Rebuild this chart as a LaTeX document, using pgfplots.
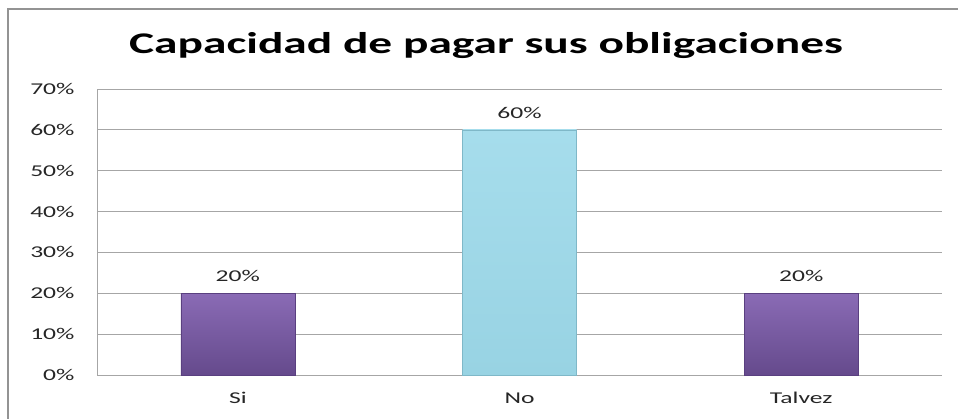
\documentclass[border=0pt]{standalone}
\usepackage{pgfplots}
\pgfplotsset{compat=1.18}
\usepackage{fontspec}
\setmainfont{Carlito}
\usepackage{graphicx}
\newcommand{\sx}[1]{\scalebox{1.55}[1]{#1}}
\definecolor{purpTop}{HTML}{8A6BB5}
\definecolor{purpBot}{HTML}{654A8C}
\definecolor{purpEdge}{HTML}{5A4080}
\definecolor{blueTop}{HTML}{A6DDEC}
\definecolor{blueBot}{HTML}{98D3E3}
\definecolor{blueEdge}{HTML}{7FB8C8}
\definecolor{gridc}{HTML}{A6A6A6}
\definecolor{txt}{HTML}{262626}
\begin{document}
\begin{tikzpicture}
\useasboundingbox (0pt,0pt) rectangle (958pt,419pt);
\draw[color=gray!85, line width=1.8pt] (8pt,0pt) -- (8pt,410pt) -- (958pt,410pt);
\node[font=\bfseries\fontsize{30}{34}\selectfont, anchor=center] at (486pt,373pt) {\scalebox{1.58}[1]{Capacidad de pagar sus obligaciones}};
\begin{axis}[
  at={(97pt,44pt)}, anchor=south west,
  scale only axis, width=845pt, height=286pt,
  xmin=-0.5, xmax=2.5, ymin=0, ymax=70,
  xtick={0,1,2}, xticklabels={\sx{Si},\sx{No},\sx{Talvez}},
  ytick={0,10,...,70},
  yticklabel={\sx{\pgfmathprintnumber[assume math mode=true]{\tick}\%}},
  ticklabel style={font=\fontsize{16.5}{18}\selectfont, text=txt},
  xticklabel style={yshift=-14pt},
  yticklabel style={xshift=-19pt},
  major tick length=0pt,
  ymajorgrids, grid style={gridc, line width=0.9pt},
  axis x line*=bottom, axis y line*=left,
  axis line style={gridc, line width=0.9pt, -},
  ybar, bar width=114pt,
  nodes near coords={\sx{\pgfmathprintnumber[assume math mode=true]{\pgfplotspointmeta}\%}},
  every node near coord/.append style={font=\fontsize{16.5}{18}\selectfont, text=txt, yshift=8pt},
  clip=false,
]
\addplot[bar shift=0pt, draw=purpEdge, top color=purpTop, bottom color=purpBot] coordinates {(0,20) (2,20)};
\addplot[bar shift=0pt, draw=blueEdge, top color=blueTop, bottom color=blueBot] coordinates {(1,60)};
\end{axis}
\end{tikzpicture}
\end{document}
